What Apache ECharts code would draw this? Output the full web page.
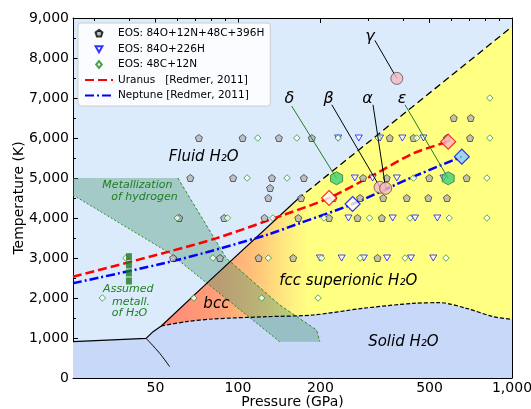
<!DOCTYPE html>
<html><head><meta charset="utf-8">
<script src="https://cdn.jsdelivr.net/npm/echarts@6/dist/echarts.min.js"></script>
<style>html,body{margin:0;padding:0;background:#fff}#c{width:531px;height:409px}</style>
</head><body><div id="c"></div>
<script>
// ===================== DATA (pressure in GPa, temperature in K) =====================
const xRange = [25, 1000];
const yRange = [0, 9000];
const xTickLabels = [50, 100, 200, 500, 1000];
const xMinorTicks = [30, 40, 60, 70, 80, 90, 300, 400, 600, 700, 800, 900];
const yTickStep = 1000;

// EOS: 84O+12N+48C+396H (gray pentagons)
const eosCNOH = [
  [613,6500],[707,6500],
  [72,6000],[104,6000],[141,6000],[186,6000],[358,6000],[437,6000],[579,6000],[703,6000],
  [67,5000],[96,5000],[133,5000],[174,5000],[286,5000],[349,5000],[499,5000],[683,5000],
  [131,4750],[129,4500],
  [170,4500],[223,4500],[279,4500],[339,4500],[413,4500],[495,4500],[579,4500],
  [61,4000],[89,4000],[125,4000],[166,4000],[215,4000],[273,4000],[335,4000],
  [58,3000],[86,3000],[119,3000],[159,3000],[323,3000]
];
// EOS: 84O+226H (blue down triangles)
const eosOH = [
  [232,6000],[276,6000],[330,6000],[398,6000],[475,6000],
  [267,5000],[310,5000],[380,5000],[562,5000],
  [253,4000],[367,4000],[443,4000],[534,4000],
  [199,3000],[239,3000],[288,3000],[350,3000],[428,3000],[516,3000]
];
// EOS: 48C+12N (green open diamonds)
const eosCN = [
  [830,7000],
  [118,6000],[164,6000],[232,6000],[325,6000],[449,6000],[830,6000],
  [108,5000],[151,5000],[437,5000],[810,5000],
  [60,4000],[91.5,4000],[134,4000],[206,4000],[302,4000],[424,4000],[590,4000],[810,4000],
  [39,3000],[81,3000],[129,3000],[202,3000],[279,3000],[407,3000],[574,3000],
  [32,2000],[69,2000],[122,2000],[196,2000]
];
// Planetary adiabats [Redmer, 2011]
const uranus  = [[25,2530],[56,3160],[83,3490],[150,4100],[215,4500],[320,5117],[437,5617],[585,5908]];
const neptune = [[25,2370],[60,2950],[127,3575],[168,3870],[262,4350],[437,5033],[656,5533]];
const uranusMarks  = [[215,4500],[585,5908]];
const neptuneMarks = [[262,4350],[656,5533]];
// Labelled states
const circlePts  = [[330,4767],[346,4742],[380,7490]];
const hexPts     = [[229,4992],[585,4992]];
const greekNames = ['α','β','γ','δ','ε'];
const greekLabelAt = [[297,6990],[214,6990],[303,8520],[154,6990],[397,6990]];
const greekLineFrom = [[311,6830],[220,6830],[316,8440],[157,6800],[407,6830]];
const greekLineTo   = [[346,4742],[330,4767],[380,7490],[229,4992],[585,4992]];
// Assumed metallization of H2O
const assumedMetallP = 40;
const assumedMetallT = [2425,2625,2825,3033];
// Phase boundaries
const meltSolid  = [[25,907],[46.2,992],[49,1158],[52.5,1300],[78.8,2433],[165,4470]];
const meltDashed = [[165,4470],[1000,8783]];
const iceBranch  = [[46.2,992],[51.8,617],[56.3,283]];
const solidTop   = [[52.5,1300],[64.7,1408],[81,1475],[127,1533],[188,1575],[286,1742],[437,1867],[546,1883],[682,1742],[855,1533],[1000,1467]];
const metalRight = [[60.3,5000],[90.7,2993],[142,1825],[193.5,1200],[199,908]];
const metalLeft  = [[25,4575],[56.2,3125],[142,908]];
// Region labels
const regionTexts = ['Fluid H₂O','bcc','fcc superionic H₂O','Solid H₂O'];
const regionAt    = [[74.9,5533],[83.4,1850],[252.6,2433],[401.4,908]];
const greenTexts  = ['Metallization','of hydrogen','Assumed','metall.','of H₂O'];
const greenAt     = [[42.95,4825],[45.6,4518],[39.8,2218],[40.7,1908],[40.2,1618]];
const names = ['EOS: 84O+12N+48C+396H','EOS: 84O+226H','EOS: 48C+12N','Uranus   [Redmer, 2011]','Neptune [Redmer, 2011]'];

// ===================== BUILD =====================
const L = v => Math.log10(v);
const xy = arr => arr.map(d => [L(d[0]), d[1]]);
const comma = v => String(v).replace(/\B(?=(\d{3})+(?!\d))/g, ',');
const FONT = 'DejaVu Sans';

const solidPoly = [[xRange[0],0],[25,907],[46.2,992],[49,1158]].concat(solidTop).concat([[xRange[1],0]]);
const superPoly = meltSolid.slice(3).concat(meltDashed.slice(1)).concat(solidTop.slice().reverse());
const metalPoly = [[xRange[0],5000]].concat(metalRight).concat(metalLeft.slice().reverse().slice(0,2)).concat([[xRange[0],4575]]);

function poly(points, styleFn, z) {
  return {
    type: 'custom', silent: true, z: z, data: [[L(100), 0]],
    renderItem: (params, api) => {
      const pts = points.map(p => api.coord([L(p[0]), p[1]]));
      return { type: 'polygon', shape: { points: pts }, style: styleFn(api) };
    }
  };
}
function pline(data, color, width, type, z, smooth) {
  return { type: 'line', data: xy(data), symbol: 'none', silent: true, z: z,
    smooth: smooth || false, lineStyle: { color: color, width: width, type: type } };
}
function texts(list, at, font, color, z) {
  return {
    type: 'custom', silent: true, z: z, data: xy(at),
    renderItem: (params, api) => {
      const c = api.coord([api.value(0), api.value(1)]);
      return { type: 'text', x: c[0], y: c[1],
        style: { text: list[params.dataIndex], font: font, fill: color, align: 'center', verticalAlign: 'middle' } };
    }
  };
}

const pentagon = 'path://M0,-10L9.51,-3.09L5.88,8.09L-5.88,8.09L-9.51,-3.09Z';
const triDown  = 'path://M0,8L-8,-6L8,-6Z';
const hexagon  = 'path://M8.66,-5L8.66,5L0,10L-8.66,5L-8.66,-5L0,-10Z';
const legPent = 'path://M-14,-4M14,4M0,-3.6L3.4,-1.1L2.1,3L-2.1,3L-3.4,-1.1Z';
const legTri  = 'path://M-14,-4M14,4M0,3.2L-3.4,-2.8L3.4,-2.8Z';
const legDia  = 'path://M-14,-4M14,4M0,-3.4L2.8,0L0,3.4L-2.8,0Z';

const series = [
  poly(superPoly, api => {
    const x0 = api.coord([L(52), 0])[0], x1 = api.coord([L(180), 0])[0];
    return { fill: new echarts.graphic.LinearGradient(x0, 0, x1, 0, [
      { offset: 0, color: '#ff8878' }, { offset: 0.4, color: '#ffa078' },
      { offset: 0.65, color: '#ffc47a' }, { offset: 0.85, color: '#ffea80' }, { offset: 1, color: '#ffff82' }], true) };
  }, 1),
  poly(solidPoly, () => ({ fill: '#c8d8f8' }), 2),
  poly(metalPoly, () => ({ fill: 'rgba(70,150,110,0.38)' }), 3),
  pline(metalRight, '#2e8b2e', 1, [3, 2], 4),
  pline(metalLeft, '#2e8b2e', 1, [2, 2], 4),
  pline(meltSolid, '#000', 1.2, 'solid', 5),
  pline(iceBranch, '#000', 1, 'solid', 5, 0.4),
  pline(meltDashed, '#000', 1.3, [7, 4], 5),
  pline(solidTop, '#000', 1.2, [4, 2], 5, 0.3),
  texts(regionTexts, regionAt, 'italic 15px ' + FONT, '#000', 6),
  texts(greenTexts, greenAt, 'italic 11px ' + FONT, '#1f7f1f', 6),
  { name: names[3], type: 'line', data: xy(uranus), symbol: 'none', smooth: 0.3, z: 7, silent: true,
    color: '#ff0000', lineStyle: { color: '#ff0000', width: 2.5, type: [9, 4] } },
  { name: names[4], type: 'line', data: xy(neptune), symbol: 'none', smooth: 0.3, z: 7, silent: true,
    color: '#0000ff', lineStyle: { color: '#0000ff', width: 2.5, type: [9, 3, 2, 3] } },
  { name: names[0], type: 'scatter', data: xy(eosCNOH), symbol: pentagon, symbolSize: 7, z: 8,
    itemStyle: { color: '#b4b4b4', borderColor: '#000', borderWidth: 0.7 } },
  { name: names[1], type: 'scatter', data: xy(eosOH), symbol: triDown, symbolSize: [7, 6], z: 8,
    itemStyle: { color: '#ffffff', borderColor: '#0000ff', borderWidth: 0.9 } },
  { name: names[2], type: 'scatter', data: xy(eosCN), symbol: 'diamond', symbolSize: 6.5, z: 8,
    itemStyle: { color: '#ffffff', borderColor: '#1f8a1f', borderWidth: 0.9 } },
  { type: 'scatter', data: assumedMetallT.map(t => [L(assumedMetallP), t]), symbol: 'rect', symbolSize: [6, 7], z: 8,
    silent: true, itemStyle: { color: '#1a7a1a' } },
];
for (let i = 0; i < greekNames.length; i++) {
  series.push(pline([greekLineFrom[i], greekLineTo[i]], (i >= 3 ? '#1f7f1f' : '#000'), 1, 'solid', 9));
}
series.push(
  { type: 'scatter', data: xy([uranusMarks[0]]), symbol: 'diamond', symbolSize: 15, z: 10, silent: true,
    itemStyle: { color: '#ffffff', borderColor: '#ff0000', borderWidth: 1.2 } },
  { type: 'scatter', data: xy([uranusMarks[1]]), symbol: 'diamond', symbolSize: 15, z: 10, silent: true,
    itemStyle: { color: '#ffb6c1', borderColor: '#ff0000', borderWidth: 1.2 } },
  { type: 'scatter', data: xy([neptuneMarks[0]]), symbol: 'diamond', symbolSize: 15, z: 10, silent: true,
    itemStyle: { color: '#ffffff', borderColor: '#0000ff', borderWidth: 1.2 } },
  { type: 'scatter', data: xy([neptuneMarks[1]]), symbol: 'diamond', symbolSize: 15, z: 10, silent: true,
    itemStyle: { color: '#87cefa', borderColor: '#0000ff', borderWidth: 1.2 } },
  { type: 'scatter', data: xy(circlePts), symbol: 'circle', symbolSize: 12, z: 10, silent: true,
    itemStyle: { color: '#f6b8c2', borderColor: '#333', borderWidth: 0.8 } },
  { type: 'scatter', data: xy(hexPts), symbol: hexagon, symbolSize: [12, 13], z: 10, silent: true,
    itemStyle: { color: '#3ccf78', borderColor: '#0d5a2a', borderWidth: 0.8 } },
  texts(greekNames, greekLabelAt, 'italic 16px ' + FONT, '#000', 11)
);

const xMin = L(xRange[0]), xMax = L(xRange[1]);
const tickBase = { show: true, inside: true, lineStyle: { color: '#000', width: 1 } };
const xAxes = [
  { type: 'value', position: 'bottom', min: xMin, max: xMax,
    name: 'Pressure (GPa)', nameLocation: 'middle', nameGap: 17, nameMoveOverlap: false,
    nameTextStyle: { fontFamily: FONT, fontSize: 14, color: '#000' },
    axisLine: { show: true, lineStyle: { color: '#000', width: 1 } },
    axisTick: Object.assign({}, tickBase, { length: 5, customValues: xTickLabels.map(L) }),
    axisLabel: { customValues: xTickLabels.map(L), formatter: v => comma(Math.round(Math.pow(10, v))),
      fontFamily: FONT, fontSize: 14, color: '#000', margin: 3 },
    splitLine: { show: false } },
  { type: 'value', position: 'bottom', min: xMin, max: xMax,
    axisLine: { show: false }, axisLabel: { show: false }, splitLine: { show: false },
    axisTick: Object.assign({}, tickBase, { length: 3, customValues: xMinorTicks.map(L) }) },
  { type: 'value', position: 'top', min: xMin, max: xMax,
    axisLine: { show: true, lineStyle: { color: '#000', width: 1 } }, axisLabel: { show: false }, splitLine: { show: false },
    axisTick: Object.assign({}, tickBase, { length: 5, customValues: xTickLabels.map(L) }) },
  { type: 'value', position: 'top', min: xMin, max: xMax,
    axisLine: { show: false }, axisLabel: { show: false }, splitLine: { show: false },
    axisTick: Object.assign({}, tickBase, { length: 3, customValues: xMinorTicks.map(L) }) }
];
const yAxes = [
  { type: 'value', position: 'left', min: yRange[0], max: yRange[1], interval: yTickStep,
    name: 'Temperature (K)', nameLocation: 'middle', nameGap: 47, nameMoveOverlap: false,
    nameTextStyle: { fontFamily: FONT, fontSize: 14, color: '#000' },
    axisLine: { show: true, lineStyle: { color: '#000', width: 1 } },
    axisTick: Object.assign({}, tickBase, { length: 5 }),
    minorTick: { show: true, splitNumber: 2, length: 3, lineStyle: { color: '#000', width: 1 } },
    axisLabel: { formatter: v => comma(v), fontFamily: FONT, fontSize: 14, color: '#000', margin: 4 },
    splitLine: { show: false }, minorSplitLine: { show: false } },
  { type: 'value', position: 'right', min: yRange[0], max: yRange[1], interval: yTickStep,
    axisLine: { show: true, lineStyle: { color: '#000', width: 1 } },
    axisTick: Object.assign({}, tickBase, { length: 5 }),
    minorTick: { show: true, splitNumber: 2, length: 3, lineStyle: { color: '#000', width: 1 } },
    axisLabel: { show: false }, splitLine: { show: false } }
];

const hideSym = { color: 'rgba(0,0,0,0)', borderColor: 'rgba(0,0,0,0)', borderWidth: 0, opacity: 0 };
const chart = echarts.init(document.getElementById('c'), null, { renderer: 'canvas' });
chart.setOption({
  animation: false,
  backgroundColor: '#ffffff',
  grid: { left: 73, right: 19, top: 18, bottom: 31, show: true, backgroundColor: '#dcebfc', borderWidth: 0,
    containLabel: false, outerBoundsMode: 'none' },
  xAxis: xAxes,
  yAxis: yAxes,
  legend: {
    data: [
      { name: names[0], icon: legPent },
      { name: names[1], icon: legTri },
      { name: names[2], icon: legDia },
      { name: names[3], itemStyle: hideSym },
      { name: names[4], itemStyle: hideSym }
    ],
    orient: 'vertical', left: 78, top: 23, itemWidth: 28, itemHeight: 8, itemGap: 4.5,
    padding: [5, 6, 5, 6], backgroundColor: 'rgba(255,255,255,0.85)', borderColor: '#cccccc', borderWidth: 1, borderRadius: 3,
    textStyle: { fontFamily: FONT, fontSize: 10.5, color: '#000' }, selectedMode: false
  },
  series: series
});
</script>
</body></html>
